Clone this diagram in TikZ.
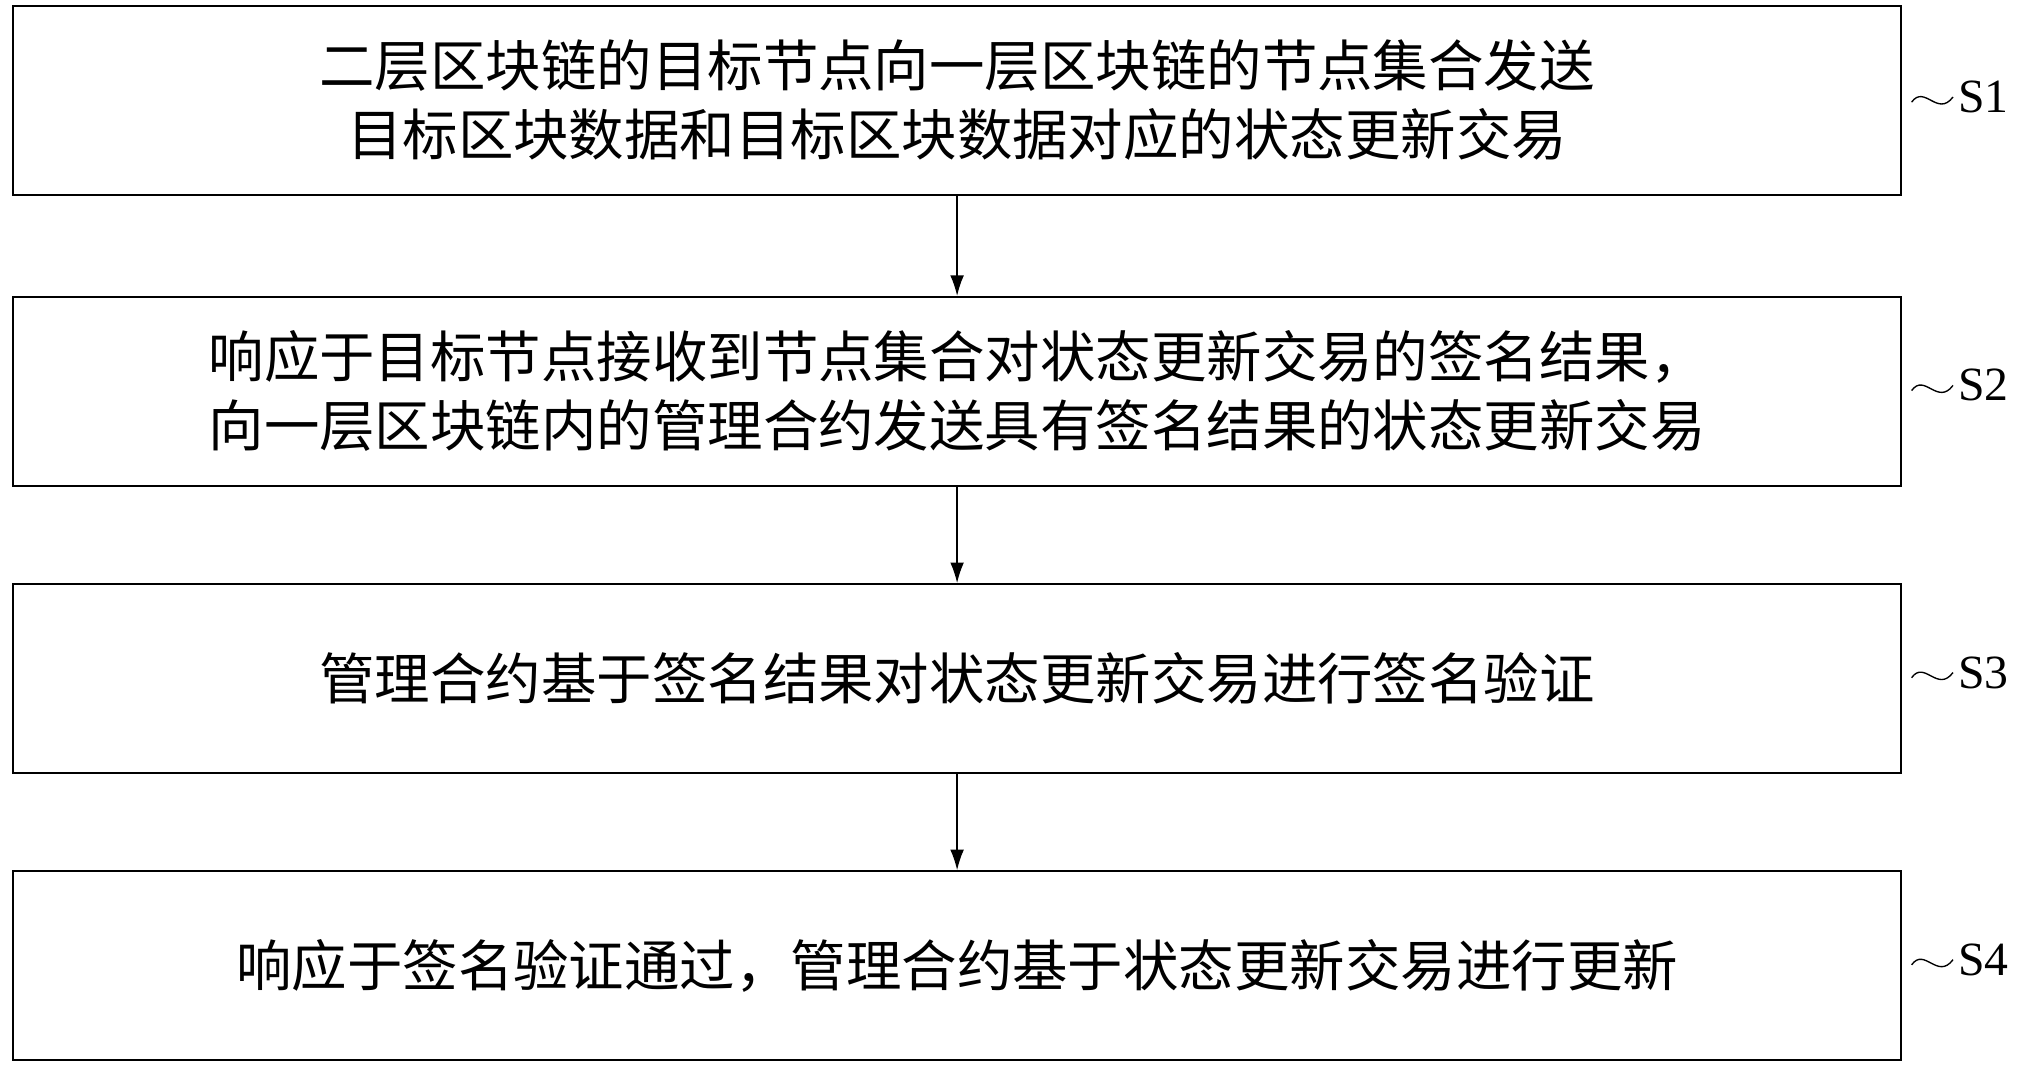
\documentclass[tikz,border=0pt]{standalone}
\usepackage{fontspec}
\setmainfont{Liberation Serif}
\newfontfamily\cjk{Noto Sans CJK SC}
\usetikzlibrary{arrows.meta}
\begin{document}
\begin{tikzpicture}[x=0.02cm,y=-0.02cm,
  stepbox/.style={draw,line width=0.8pt,minimum width=29.2cm,minimum height=2.92cm,inner sep=0pt,font=\cjk\fontsize{24.4}{30.2}\selectfont,align=center},
  conn/.style={-{Latex[length=9pt,width=6pt]},line width=0.6pt},
  lab/.style={font=\fontsize{21}{24}\selectfont,anchor=west}]
\useasboundingbox (0,0) rectangle (1568,827.3);
\node[stepbox] (s1) at (740,77.5) {二层区块链的目标节点向一层区块链的节点集合发送\\目标区块数据和目标区块数据对应的状态更新交易};
\node[stepbox] (s2) at (740,302.5) {响应于目标节点接收到节点集合对状态更新交易的签名结果，\\向一层区块链内的管理合约发送具有签名结果的状态更新交易};
\node[stepbox] (s3) at (740,524.5) {管理合约基于签名结果对状态更新交易进行签名验证};
\node[stepbox] (s4) at (740,746.5) {响应于签名验证通过，管理合约基于状态更新交易进行更新};
\draw[conn] (s1) -- (s2);
\draw[conn] (s2) -- (s3);
\draw[conn] (s3) -- (s4);
\foreach \n/\y in {1/75,2/298,3/520,4/742}{
  \draw[line width=0.6pt] (1478,\y+4) .. controls (1488,\y-10) and (1498,\y+16) .. (1510,\y);
  \node[lab] (l\n) at (1508,\y) {S\n};
}
\end{tikzpicture}
\end{document}
